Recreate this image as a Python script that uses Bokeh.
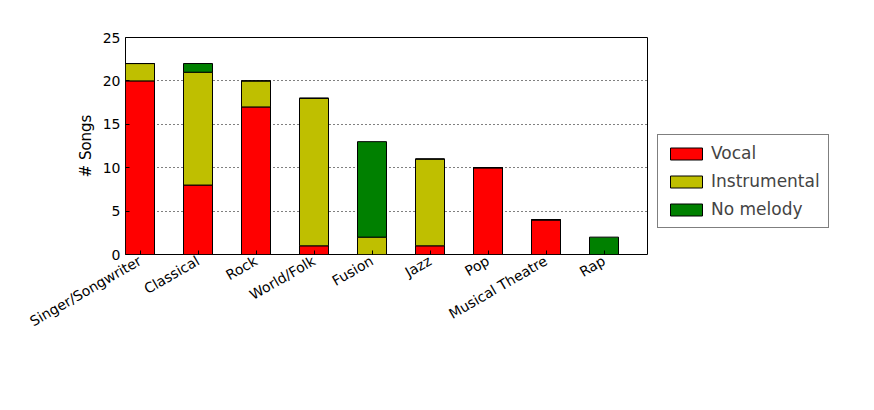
import math
from bokeh.plotting import figure
from bokeh.models import FixedTicker, Legend, LegendItem, ColumnDataSource
from bokeh.embed import file_html
from bokeh.resources import INLINE

genres = ["Singer/Songwriter", "Classical", "Rock", "World/Folk", "Fusion",
          "Jazz", "Pop", "Musical Theatre", "Rap"]
vocal = [20, 8, 17, 1, 0, 1, 10, 4, 0]
instrumental = [2, 13, 3, 17, 2, 10, 0, 0, 0]
no_melody = [0, 1, 0, 0, 11, 0, 0, 0, 2]
series = ["Vocal", "Instrumental", "No melody"]
colors = ["#ff0000", "#bfbf00", "#008000"]

xs = list(range(len(genres)))
src = ColumnDataSource(dict(x=xs, Vocal=vocal, Instrumental=instrumental,
                            **{"No melody": no_melody}))

p = figure(width=858, height=394, x_range=(-0.25, 8.75), y_range=(0, 25),
           output_backend="svg", toolbar_location=None, tools="",
           min_border_left=125, min_border_top=37, min_border_bottom=140)
p.frame_width = 522
p.frame_height = 217
renderers = p.vbar_stack(series, x="x", width=0.5, source=src, color=colors,
                         line_color="black", line_width=1)

p.outline_line_color = "black"
p.xgrid.grid_line_color = None
p.ygrid.grid_line_color = "black"
p.ygrid.grid_line_dash = "1 3"
p.ygrid.ticker = FixedTicker(ticks=[5, 10, 15, 20])
p.yaxis.ticker = FixedTicker(ticks=[0, 5, 10, 15, 20, 25])
p.xaxis.ticker = FixedTicker(ticks=xs)
p.xaxis.major_label_overrides = {i: g for i, g in enumerate(genres)}
p.xaxis.major_label_orientation = math.pi / 6
p.yaxis.axis_label = "# Songs"
for ax in (p.xaxis, p.yaxis):
    ax.axis_line_color = None
    ax.major_label_text_font = "DejaVu Sans"
    ax.major_label_text_font_size = "14px"
    ax.major_label_text_color = "black"
    ax.minor_tick_line_color = None
    ax.major_tick_in = 4
    ax.major_tick_out = 0
p.yaxis.axis_label_text_font = "DejaVu Sans"
p.yaxis.axis_label_text_font_size = "15px"
p.yaxis.axis_label_text_font_style = "normal"
p.yaxis.axis_label_text_color = "black"

legend = Legend(items=[LegendItem(label=s, renderers=[r]) for s, r in zip(series, renderers)],
                location=(10, 26), border_line_color="black", label_text_font="DejaVu Sans",
                label_text_font_size="17px", glyph_width=40, glyph_height=15,
                spacing=8, padding=8, margin=0, background_fill_alpha=1)
p.add_layout(legend, "right")

open("out.html", "w").write(file_html(p, INLINE))
